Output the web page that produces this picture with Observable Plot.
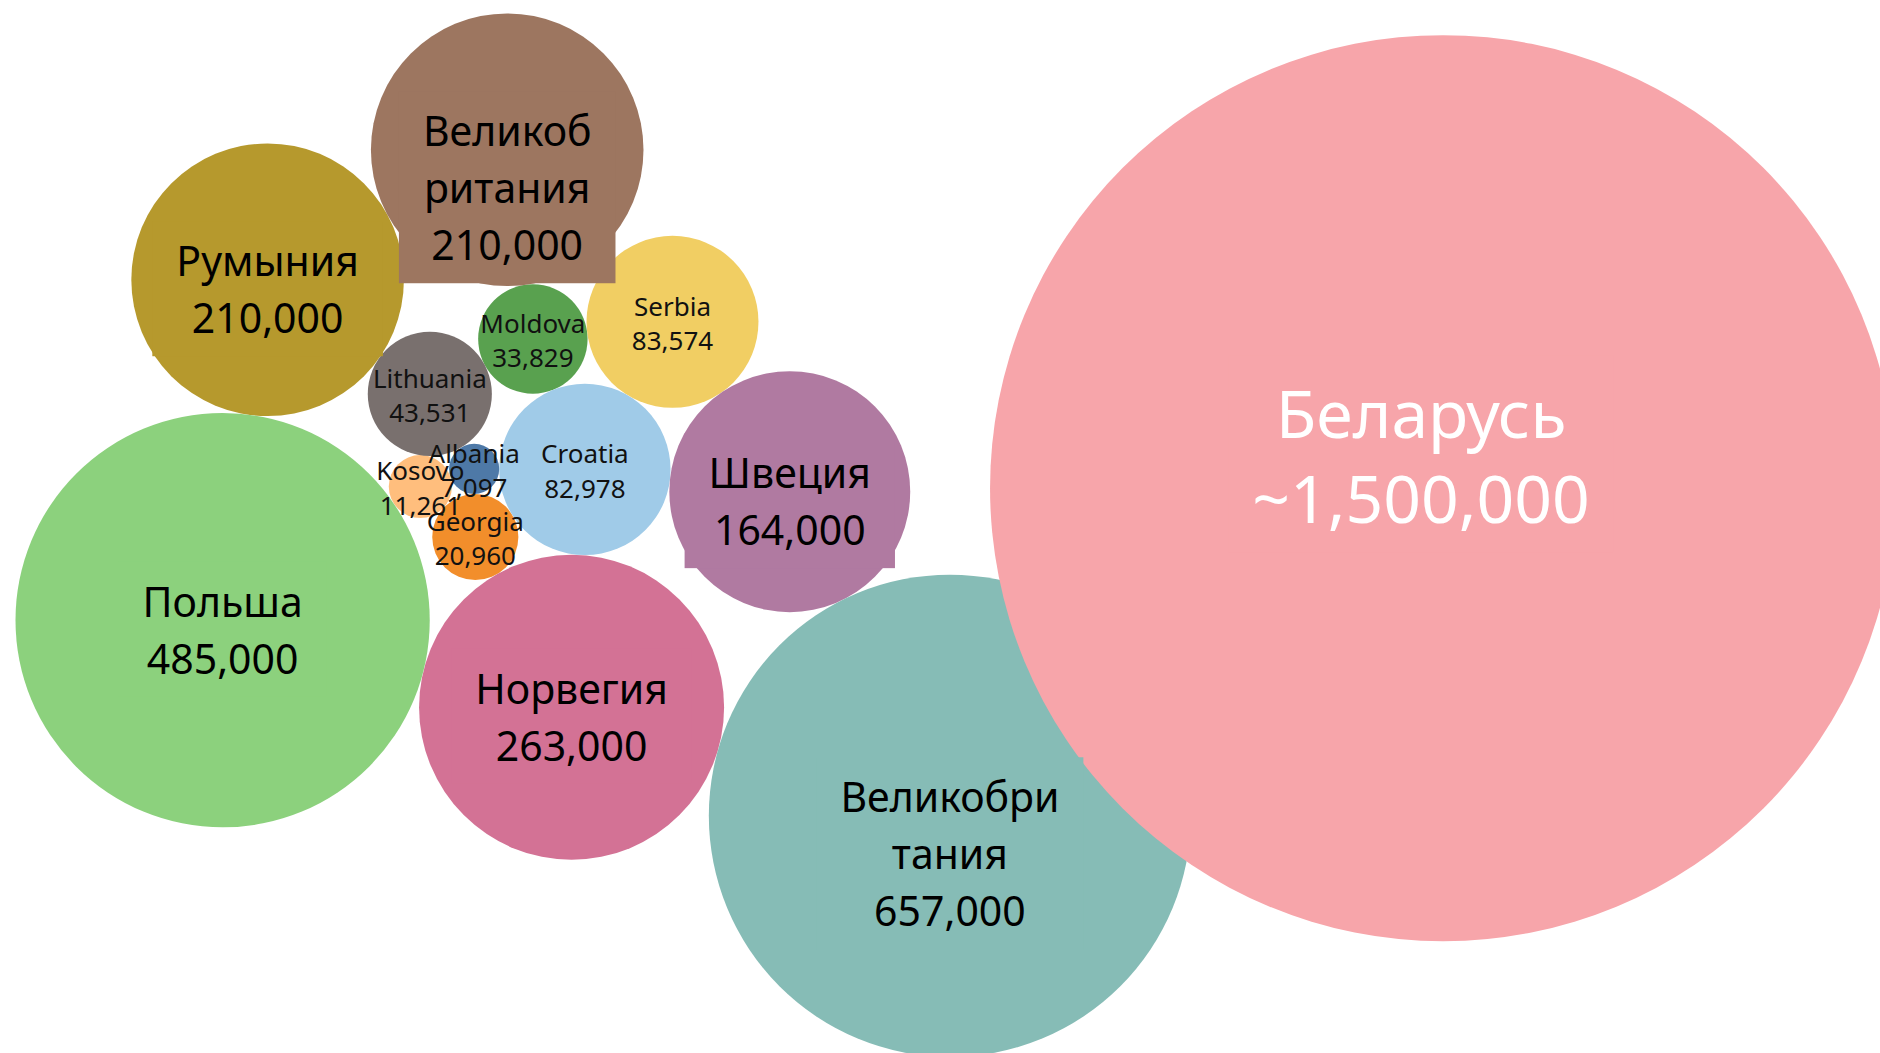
<!DOCTYPE html>
<html>
<head>
<meta charset="utf-8">
<script src="https://cdn.jsdelivr.net/npm/d3@7"></script>
<script src="https://cdn.jsdelivr.net/npm/@observablehq/plot@0.6"></script>
<style>
  html, body { margin: 0; padding: 0; background: #ffffff; }
  #chart svg { display: block; }
</style>
</head>
<body>
<div id="chart"></div>
<script>
// ---------------- data ----------------
const ids = ["BY", "GB", "PL", "NO", "RO", "GB2", "SE", "RS", "HR", "LT", "MD", "GE", "XK", "AL"];
const names = ["Беларусь", "Великобри\nтания", "Польша", "Норвегия", "Румыния", "Великоб\nритания", "Швеция",
               "Serbia", "Croatia", "Lithuania", "Moldova", "Georgia", "Kosovo", "Albania"];
const values = [1500000, 657000, 485000, 263000, 210000, 210000, 164000, 83574, 82978, 43531, 33829, 20960, 11261, 7097];
// bubble areas as drawn (Belarus is drawn larger than its labelled value)
const bubbleSizes = [2320000, 657000, 485000, 263000, 210000, 210000, 164000, 83574, 82978, 43531, 33829, 20960, 11261, 7097];
const approximateIds = ["BY"];

// ---------------- styles ----------------
const palette = ["#F7A5AA", "#86BCB6", "#8CD17D", "#D37295", "#B6992D", "#9D7660", "#B07AA1",
                 "#F1CE63", "#A0CBE8", "#79706E", "#59A14F", "#F28E2B", "#FFBE7D", "#4E79A7"];
const W = 1880, H = 1053;
const maxRadius = 453;
const padLeft = 15, padTop = 13;

// packing order: each bubble touches the listed neighbours (topology of the packed layout)
const packOrder = [
  {id: "HR"},
  {id: "SE", touch: ["HR"], angle: 6.2},
  {id: "RS", touch: ["SE", "HR"]},
  {id: "MD", touch: ["RS", "HR"]},
  {id: "NO", touch: ["HR"], angle: 93.2},
  {id: "GB", touch: ["NO", "SE"]},
  {id: "GE", touch: ["HR", "NO"]},
  {id: "AL", touch: ["HR", "GE"]},
  {id: "XK", touch: ["AL", "GE"]},
  {id: "LT", touch: ["MD", "AL"]},
  {id: "PL", touch: ["XK", "NO"]},
  {id: "RO", touch: ["LT", "PL"]},
  {id: "GB2", touch: ["MD", "RO"]},
  {id: "BY", touch: ["GB"], angle: -33.6, overlap: 102}
];

// ---------------- build rows & layout ----------------
const fmt = d3.format(",");
const maxSize = d3.max(bubbleSizes);
const radius = d3.scaleSqrt().domain([0, maxSize]).range([0, maxRadius]);

const rows = ids.map((id, i) => ({
  id,
  name: names[i],
  value: values[i],
  size: bubbleSizes[i],
  r: radius(bubbleSizes[i]),
  label: names[i] + "\n" + (approximateIds.includes(id) ? "~" : "") + fmt(values[i])
}));
const byId = new Map(rows.map(d => [d.id, d]));

function placeTangent(a, b, c) {
  const dx = b.x - a.x, dy = b.y - a.y, d = Math.hypot(dx, dy);
  const ra = a.r + c.r, rb = b.r + c.r;
  const t = (ra * ra - rb * rb + d * d) / (2 * d);
  const h = Math.sqrt(Math.max(0, ra * ra - t * t));
  const ux = dx / d, uy = dy / d;
  c.x = a.x + t * ux - h * uy;
  c.y = a.y + t * uy + h * ux;
}
function attach(a, c, angleDeg, overlap) {
  const ang = angleDeg * Math.PI / 180;
  const dist = a.r + c.r - (overlap || 0);
  c.x = a.x + dist * Math.cos(ang);
  c.y = a.y + dist * Math.sin(ang);
}
for (const step of packOrder) {
  const c = byId.get(step.id);
  if (!step.touch) { c.x = 0; c.y = 0; continue; }
  if (step.touch.length === 1) {
    attach(byId.get(step.touch[0]), c, step.angle, step.overlap);
  } else {
    placeTangent(byId.get(step.touch[0]), byId.get(step.touch[1]), c);
  }
}
const x0 = d3.min(rows, d => d.x - d.r) - padLeft;
const y0 = d3.min(rows, d => d.y - d.r) - padTop;

const drawOrder = d3.sort(rows, d => d.size); // small first, Belarus last (on top)

const isBY = d => d.id === "BY";
const isOverlay = d => !isBY(d) && d.value >= 100000;
const isSmall = d => d.value < 100000;

const plot = Plot.plot({
  width: W,
  height: H,
  margin: 0,
  x: {domain: [x0, x0 + W], range: [0, W], axis: null},
  y: {domain: [y0, y0 + H], range: [0, H], axis: null},
  r: {type: "sqrt", domain: [0, maxSize], range: [0, maxRadius]},
  color: {domain: ids, range: palette},
  marks: [
    Plot.dot(drawOrder, {x: "x", y: "y", r: "size", fill: "id", sort: null}),
    Plot.text(rows, {filter: isBY, x: "x", y: "y", text: "label", fill: "white",
      fontFamily: "Noto Sans", fontSize: 66, lineHeight: 1.29, dx: -22, dy: -35}),
    Plot.text(rows, {filter: isOverlay, x: "x", y: "y", text: "label", fill: "black",
      fontFamily: "Noto Sans", fontSize: 41, lineHeight: 1.39, lineAnchor: "top", dy: -44}),
    Plot.text(rows, {filter: isSmall, x: "x", y: "y", text: "label", fill: "#111111",
      fontFamily: "Noto Sans", fontSize: 26, lineHeight: 1.33})
  ]
});

document.getElementById("chart").append(plot);

// label text boxes filled with the bubble colour (as in the reference overlays)
const colorOf = id => palette[ids.indexOf(id)];
const textGroups = plot.querySelectorAll('g[aria-label="text"]');
const groupRows = [rows.filter(isBY), rows.filter(isOverlay)];
const ns = "http://www.w3.org/2000/svg";
groupRows.forEach((gr, gi) => {
  const g = textGroups[gi];
  if (!g) return;
  const texts = Array.from(g.querySelectorAll("text"));
  texts.forEach((t, i) => {
    const row = gr[i];
    if (!row) return;
    const b = t.getBBox();
    const padX = 24, padY = 11;
    const rect = document.createElementNS(ns, "rect");
    rect.setAttribute("x", b.x - padX);
    rect.setAttribute("y", b.y - padY);
    rect.setAttribute("width", b.width + 2 * padX);
    rect.setAttribute("height", b.height + 2 * padY);
    rect.setAttribute("fill", colorOf(row.id));
    const tr = t.getAttribute("transform");
    if (tr) rect.setAttribute("transform", tr);
    g.insertBefore(rect, g.firstChild);
  });
});
</script>
</body>
</html>
